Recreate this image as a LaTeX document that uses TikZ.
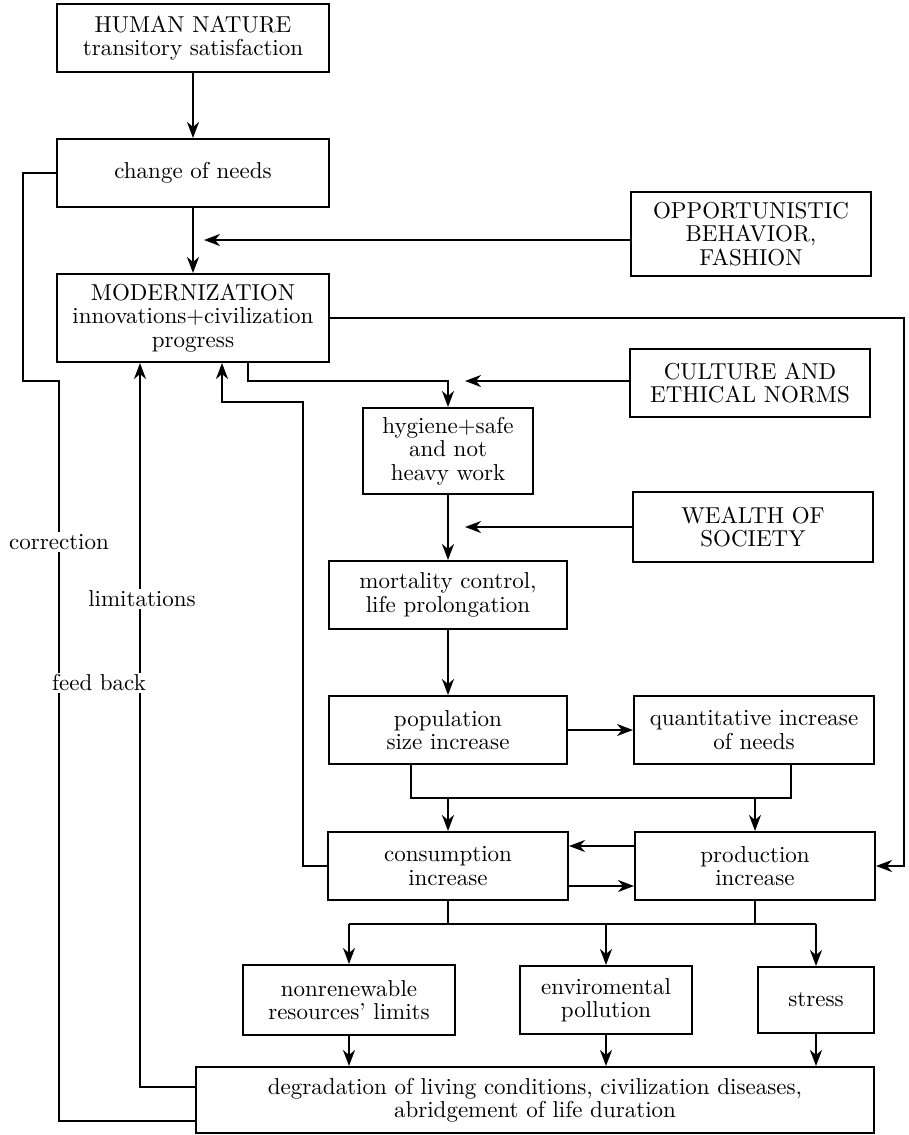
\documentclass[tikz,border=0pt]{standalone}
\usepackage{fontspec}
\setmainfont{lmroman10-regular}[Extension=.otf]
\usetikzlibrary{arrows.meta}
\usetikzlibrary{positioning}

\begin{document}
\begin{tikzpicture}[
            x=1pt, y=-1pt,
            >={Stealth[length=16pt,width=12pt,inset=5pt]}, line width=2pt,
            box/.style={draw, rectangle, line width=2pt, inner sep=1pt, align=center, font=\fontsize{23}{23.5}\selectfont},
            lbl/.style={fill=white, inner sep=2pt, font=\fontsize{23}{23.5}\selectfont}
        ]
            \useasboundingbox (0,0) rectangle (909,1135);

            % Main chain
            \node[box, minimum width=272, minimum height=68] (nature) at (193,38) {HUMAN NATURE\\transitory satisfaction};
            \node[box, minimum width=272, minimum height=68] (needs) at (193,173) {change of needs};
            \node[box, minimum width=272, minimum height=88] (modern) at (193,318) {MODERNIZATION\\innovations+civilization\\progress};
            \draw[->] (nature) -- (needs);
            \draw[->] (needs) -- (modern);

            % Outside factors
            \node[box, minimum width=240, minimum height=84] (opport) at (751,234) {OPPORTUNISTIC\\BEHAVIOR,\\FASHION};
            \node[box, minimum width=240, minimum height=68] (culture) at (750,383) {CULTURE AND\\ETHICAL NORMS};
            \node[box, minimum width=240, minimum height=70] (wealth) at (753,527) {WEALTH OF\\SOCIETY};
            \coordinate (oppTip) at (204,240);
            \coordinate (culTip) at (465,381);
            \coordinate (wealthTip) at (465,527);
            \draw[->] (opport.west |- oppTip) -- (oppTip);
            \draw[->] (culture.west |- culTip) -- (culTip);
            \draw[->] (wealth.west) -- (wealthTip);

            % Population
            \node[box, minimum width=170, minimum height=86] (hyg) at (448,451) {hygiene+safe\\and not\\heavy work};
            \node[box, minimum width=238, minimum height=68] (mort) at (448,595) {mortality control,\\life prolongation};
            \node[box, minimum width=238, minimum height=68] (pop) at (448,730) {population\\size increase};
            \node[box, minimum width=240, minimum height=68] (quant) at (754,730) {quantitative increase\\of needs};
            \coordinate (hygIn) at (248,381);
            \draw[->] (modern.south -| hygIn) -- (hygIn) -| (hyg.north);
            \draw[->] (hyg) -- (mort);
            \draw[->] (mort) -- (pop);
            \draw[->] (pop) -- (quant);

            % Consumption and production
            \node[box, minimum width=240, minimum height=68] (cons) at (448,866) {consumption\\increase};
            \node[box, minimum width=240, minimum height=68] (prod) at (755,866) {production\\increase};
            \coordinate (mergeL) at (411,798);
            \coordinate (mergeR) at (791,798);
            \draw (pop.south -| mergeL) -- (mergeL) -- (mergeR) -- (quant.south -| mergeR);
            \draw[->] (mergeL -| cons.north) -- (cons.north);
            \draw[->] (mergeL -| prod.north) -- (prod.north);
            \draw[->] ([yshift=20pt]prod.west) -- ([yshift=20pt]prod.west -| cons.east);
            \draw[->] ([yshift=-20pt]cons.east) -- ([yshift=-20pt]cons.east -| prod.west);
            \coordinate (modRight) at (904,318);
            \draw[->] (modern.east) -- (modRight) |- (prod.east);
            \coordinate (backA) at (303,402);
            \coordinate (backB) at (222,402);
            \draw[->] (cons.west) -| (backA) -- (backB) -- (modern.south -| backB);

            % Effects
            \node[box, minimum width=212, minimum height=70] (nonren) at (349,1000) {nonrenewable\\resources' limits};
            \node[box, minimum width=172, minimum height=68] (env) at (606,1000) {enviromental\\pollution};
            \node[box, minimum width=116, minimum height=66] (stress) at (816,1000) {stress};
            \node[box, minimum width=678, minimum height=66] (degr) at (535,1100) {degradation of living conditions, civilization diseases,\\abridgement of life duration};
            \coordinate (split) at (449,924);
            \draw (cons.south) -- (cons.south |- split);
            \draw (prod.south) -- (prod.south |- split);
            \draw (nonren.north |- split) -- (stress.north |- split);
            \draw[->] (nonren.north |- split) -- (nonren.north);
            \draw[->] (env.north |- split) -- (env.north);
            \draw[->] (stress.north |- split) -- (stress.north);
            \draw[->] (nonren.south) -- (degr.north -| nonren.south);
            \draw[->] (env.south) -- (degr.north -| env.south);
            \draw[->] (stress.south) -- (degr.north -| stress.south);

            % Feedback loops
            \coordinate (limC) at (140,1087);
            \draw[->] (degr.west |- limC) -- (limC) -- (modern.south -| limC);
            \coordinate (corA) at (59,1121);
            \coordinate (corB) at (59,381);
            \coordinate (corC) at (23,381);
            \coordinate (corD) at (23,173);
            \draw (degr.west |- corA) -- (corA) -- (corB) -- (corC) -- (corD) -- (needs.west);
            \node[lbl] (corrlbl) at (59,542) {correction};
            \node[lbl] (limlbl) at (142,599) {limitations};
            \node[lbl] (fblbl) at (99,683) {feed back};
        \end{tikzpicture}
\end{document}
